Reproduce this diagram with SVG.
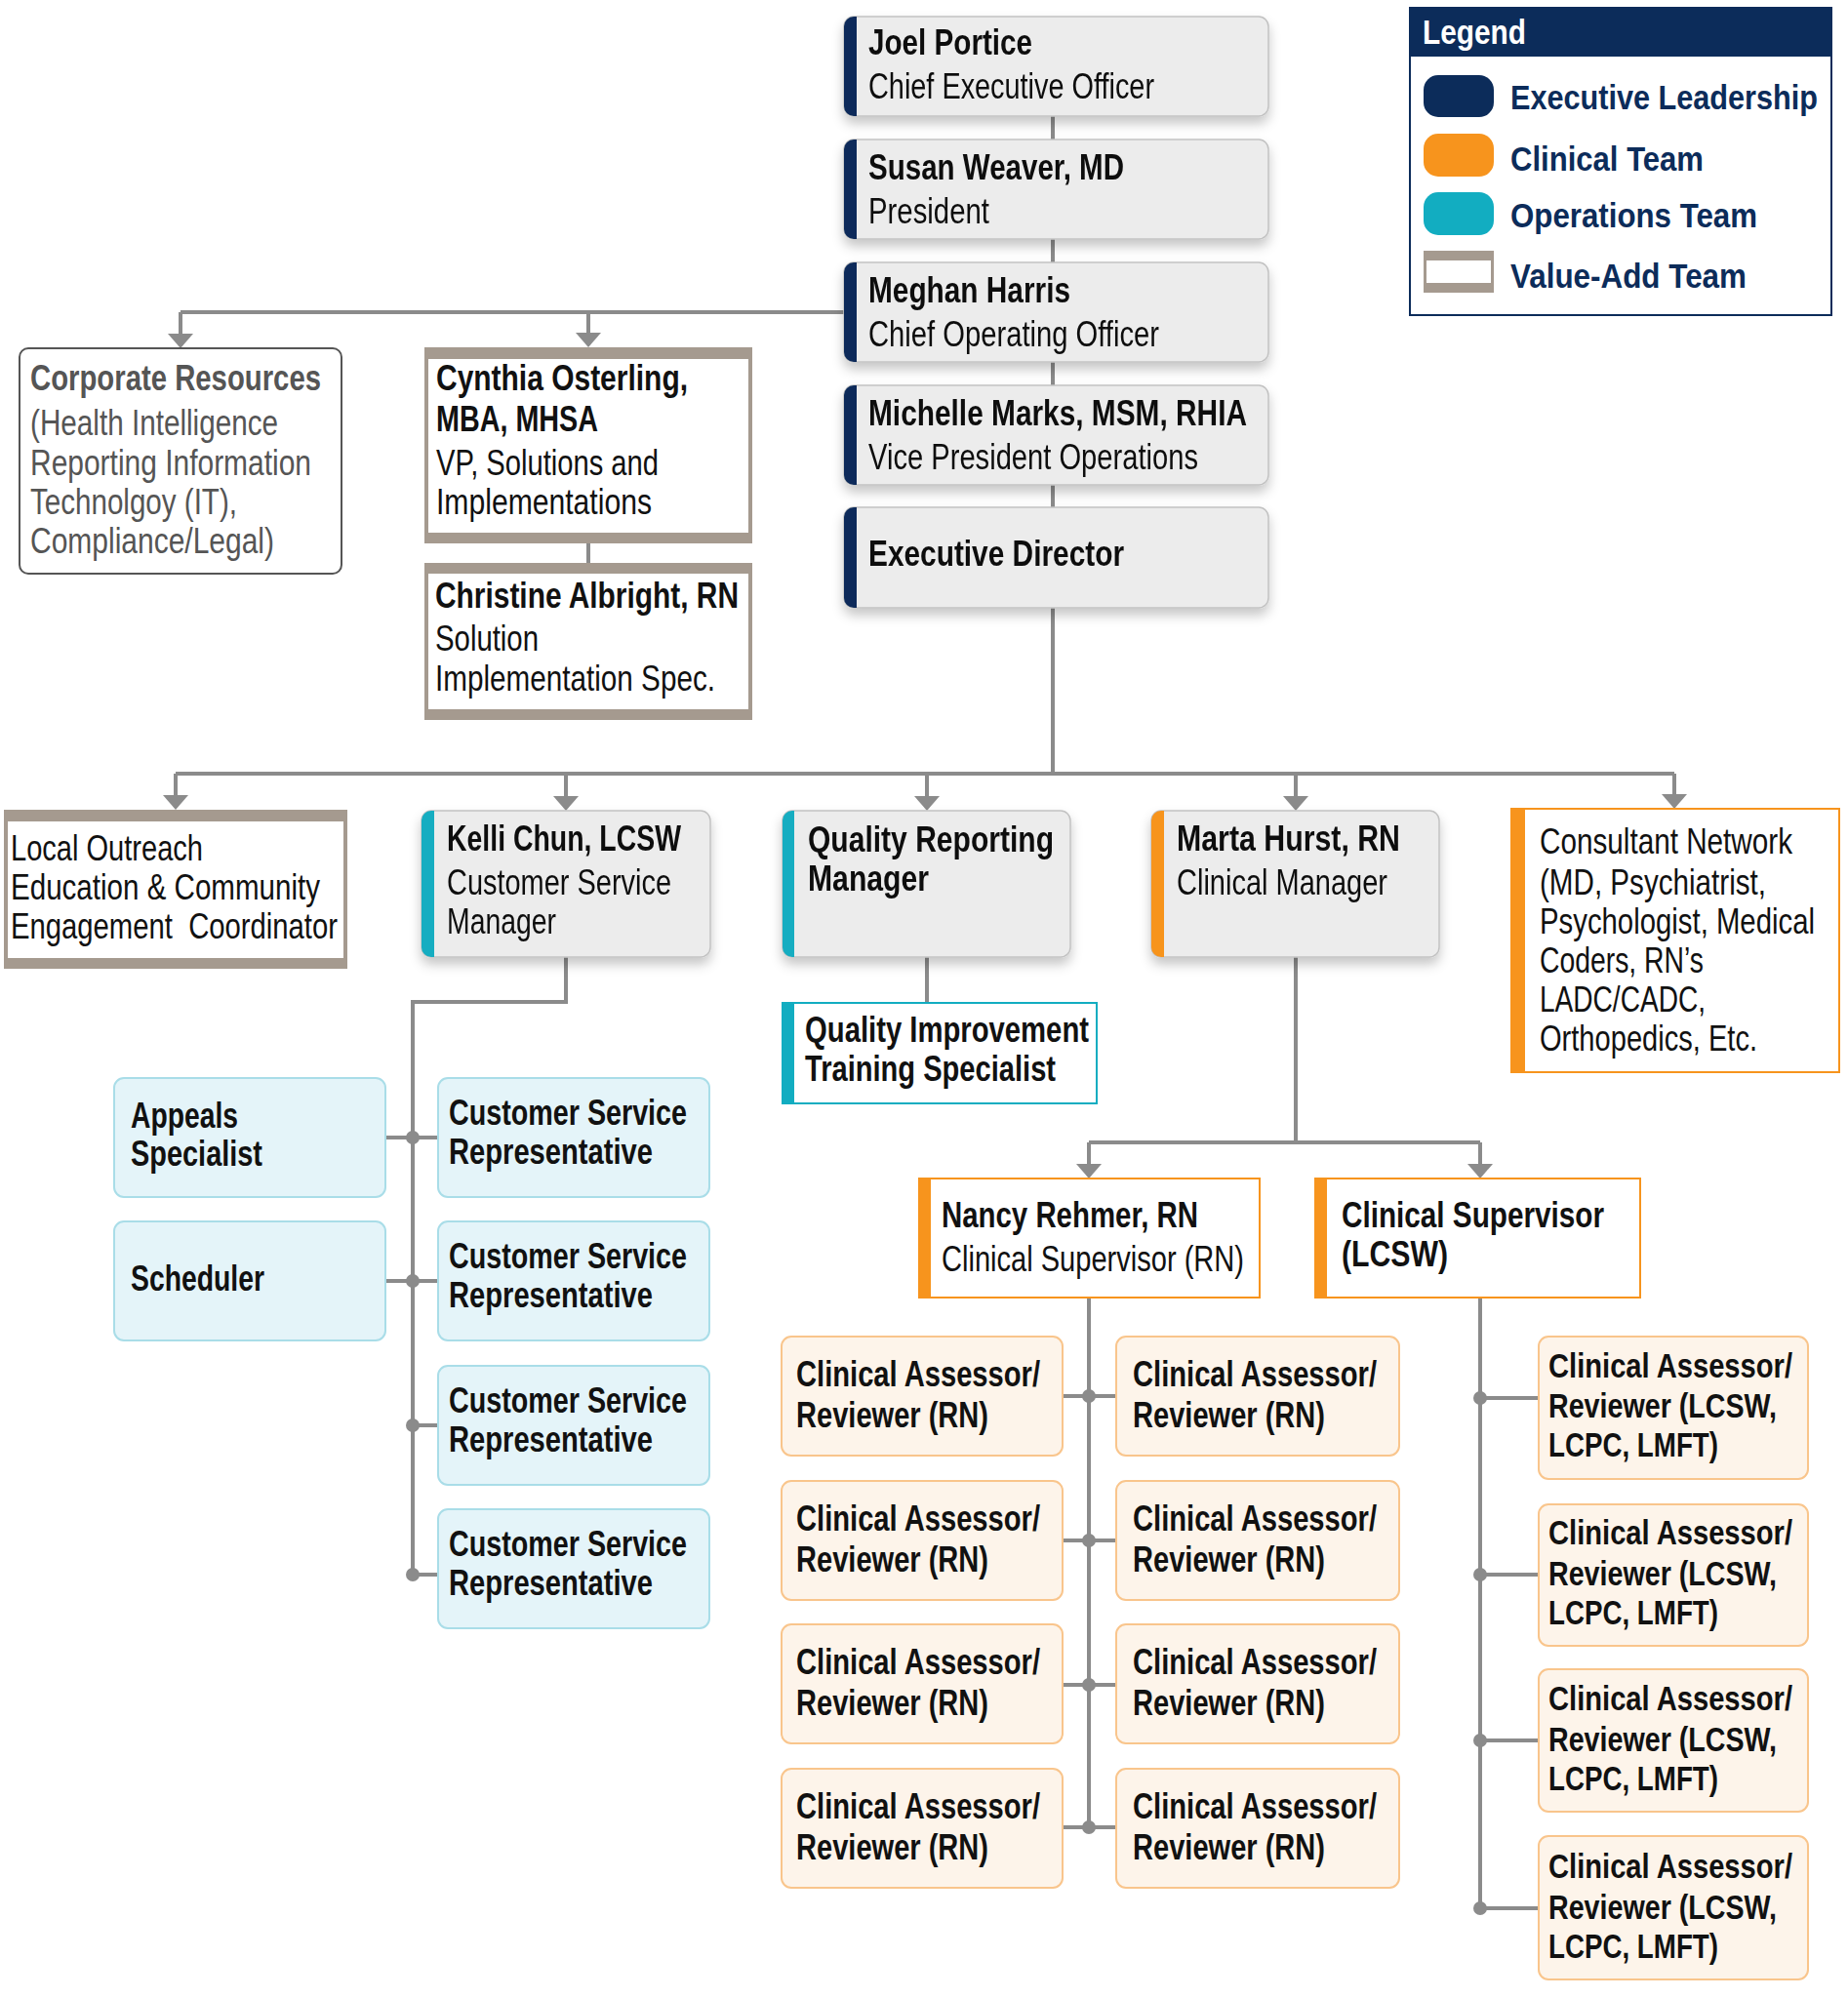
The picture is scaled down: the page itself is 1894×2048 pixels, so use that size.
<svg xmlns="http://www.w3.org/2000/svg" width="1894" height="2048" viewBox="0 0 1894 2048">
<style>
text{font-family:"Liberation Sans Narrow","Liberation Sans",Arial,sans-serif;fill:#111;}
.b{font-weight:bold;font-size:36px;}
.b35{font-weight:bold;font-size:35px;}
.r{font-size:37px;}
.s{font-size:37px;}
.r32{font-size:32px;}
.g{fill:#555;}
.gray{fill:#ececec;stroke:#c2c2c2;stroke-width:1.5;}
.navy{fill:#0c2c5a;}
.teal{fill:#12adc1;}
.orng{fill:#f7941d;}
.va{fill:#a59a8f;}
.wh{fill:#fff;}
.ops{fill:#e4f4f9;stroke:#a9dde8;stroke-width:2;}
.cli{fill:#fdf4ea;stroke:#f9c58c;stroke-width:2;}
.ob{fill:#fff;stroke:#f7941d;stroke-width:2;}
.tb{fill:#fff;stroke:#12adc1;stroke-width:2;}
.con{fill:none;stroke:#8b8b8b;stroke-width:4;}
.dot{fill:#8b8b8b;}
.lg{font-size:32px;font-weight:bold;fill:#0c2c5a;}
</style>
<defs>
<filter id="sh" x="-10%" y="-10%" width="120%" height="140%"><feDropShadow dx="0" dy="7" stdDeviation="6" flood-color="#000" flood-opacity="0.22"/></filter>
<marker id="ar" markerUnits="userSpaceOnUse" viewBox="0 0 26 16" markerWidth="26" markerHeight="16" refX="13" refY="12" orient="0"><path d="M0,0 L26,0 L13,15 Z" fill="#8b8b8b"/></marker>
</defs>
<rect width="1894" height="2048" fill="#fff"/>

<g id="connectors">
<path class="con" d="M1079,119 V143 M1079,245 V269 M1079,371 V395 M1079,497 V520"/>
<path class="con" d="M865,320 H185 M1079,623 V793 M180,793 H1716 M603,557 V577 M950,981 V1028 M1328,981 V1171 M1116,1171 H1517"/>
<path class="con" marker-end="url(#ar)" d="M185,320 V354"/>
<path class="con" marker-end="url(#ar)" d="M603,320 V353"/>
<path class="con" marker-end="url(#ar)" d="M180,793 V827"/>
<path class="con" marker-end="url(#ar)" d="M580,793 V828"/>
<path class="con" marker-end="url(#ar)" d="M950,793 V828"/>
<path class="con" marker-end="url(#ar)" d="M1328,793 V828"/>
<path class="con" marker-end="url(#ar)" d="M1716,793 V826"/>
<path class="con" marker-end="url(#ar)" d="M1116,1171 V1205"/>
<path class="con" marker-end="url(#ar)" d="M1517,1171 V1205"/>
<path class="con" d="M580,981 V1027 H423 V1614 M395,1166 H449 M395,1313 H449 M423,1461 H449 M423,1614 H449"/>
<path class="con" d="M1116,1330 V1873 M1089,1431 H1144 M1089,1579 H1144 M1089,1727 H1144 M1089,1873 H1144"/>
<path class="con" d="M1517,1330 V1956 M1517,1433 H1577 M1517,1614 H1577 M1517,1784 H1577 M1517,1956 H1577"/>
<circle class="dot" cx="423" cy="1166" r="7"/><circle class="dot" cx="423" cy="1313" r="7"/><circle class="dot" cx="423" cy="1461" r="7"/><circle class="dot" cx="423" cy="1614" r="7"/>
<circle class="dot" cx="1116" cy="1431" r="7"/><circle class="dot" cx="1116" cy="1579" r="7"/><circle class="dot" cx="1116" cy="1727" r="7"/><circle class="dot" cx="1116" cy="1873" r="7"/>
<circle class="dot" cx="1517" cy="1433" r="7"/><circle class="dot" cx="1517" cy="1614" r="7"/><circle class="dot" cx="1517" cy="1784" r="7"/><circle class="dot" cx="1517" cy="1956" r="7"/>
</g>

<g id="legend">
<rect x="1445" y="8" width="432" height="315" fill="#fff" stroke="#0c2c5a" stroke-width="2"/>
<rect x="1445" y="8" width="432" height="50" class="navy"/>
<text x="1458" y="45" font-size="35" font-weight="bold" style="fill:#fff" textLength="106" lengthAdjust="spacingAndGlyphs">Legend</text>
<rect x="1459" y="77" width="72" height="43" rx="15" class="navy"/>
<rect x="1459" y="137" width="72" height="44" rx="15" class="orng"/>
<rect x="1459" y="197" width="72" height="44" rx="15" class="teal"/>
<rect x="1459" y="257" width="72" height="43" class="va"/>
<rect x="1462" y="267" width="66" height="23" class="wh"/>
<text class="lg" transform="translate(1548,112) scale(1,1.1)" textLength="315" lengthAdjust="spacingAndGlyphs">Executive Leadership</text>
<text class="lg" transform="translate(1548,175) scale(1,1.1)" textLength="198" lengthAdjust="spacingAndGlyphs">Clinical Team</text>
<text class="lg" transform="translate(1548,233) scale(1,1.1)" textLength="253" lengthAdjust="spacingAndGlyphs">Operations Team</text>
<text class="lg" transform="translate(1548,295) scale(1,1.1)" textLength="242" lengthAdjust="spacingAndGlyphs">Value-Add Team</text>
</g>

<g id="joel" filter="url(#sh)">
<rect class="gray" x="865" y="17" width="435" height="102" rx="10"/>
<path class="navy" d="M878,17 H875 A10,10 0 0 0 865,27 V109 A10,10 0 0 0 875,119 H878 Z"/>
<text class="b" x="890" y="56" textLength="168" lengthAdjust="spacingAndGlyphs">Joel Portice</text>
<text class="r" x="890" y="101" textLength="293" lengthAdjust="spacingAndGlyphs">Chief Executive Officer</text>
</g>
<g id="susan" filter="url(#sh)">
<rect class="gray" x="865" y="143" width="435" height="102" rx="10"/>
<path class="navy" d="M878,143 H875 A10,10 0 0 0 865,153 V235 A10,10 0 0 0 875,245 H878 Z"/>
<text class="b" x="890" y="184" textLength="262" lengthAdjust="spacingAndGlyphs">Susan Weaver, MD</text>
<text class="r" x="890" y="229" textLength="124" lengthAdjust="spacingAndGlyphs">President</text>
</g>
<g id="meghan" filter="url(#sh)">
<rect class="gray" x="865" y="269" width="435" height="102" rx="10"/>
<path class="navy" d="M878,269 H875 A10,10 0 0 0 865,279 V361 A10,10 0 0 0 875,371 H878 Z"/>
<text class="b" x="890" y="310" textLength="207" lengthAdjust="spacingAndGlyphs">Meghan Harris</text>
<text class="r" x="890" y="355" textLength="298" lengthAdjust="spacingAndGlyphs">Chief Operating Officer</text>
</g>
<g id="michelle" filter="url(#sh)">
<rect class="gray" x="865" y="395" width="435" height="102" rx="10"/>
<path class="navy" d="M878,395 H875 A10,10 0 0 0 865,405 V487 A10,10 0 0 0 875,497 H878 Z"/>
<text class="b" x="890" y="436" textLength="388" lengthAdjust="spacingAndGlyphs">Michelle Marks, MSM, RHIA</text>
<text class="r" x="890" y="481" textLength="338" lengthAdjust="spacingAndGlyphs">Vice President Operations</text>
</g>
<g id="execdir" filter="url(#sh)">
<rect class="gray" x="865" y="520" width="435" height="103" rx="10"/>
<path class="navy" d="M878,520 H875 A10,10 0 0 0 865,530 V613 A10,10 0 0 0 875,623 H878 Z"/>
<text class="b" x="890" y="580" textLength="262" lengthAdjust="spacingAndGlyphs">Executive Director</text>
</g>

<g id="corporate">
<rect x="20" y="357" width="330" height="231" rx="9" fill="#fff" stroke="#555" stroke-width="2"/>
<text class="b g" x="31" y="400" textLength="298" lengthAdjust="spacingAndGlyphs">Corporate Resources</text>
<text class="s g" x="31" y="446" textLength="254" lengthAdjust="spacingAndGlyphs">(Health Intelligence</text>
<text class="s g" x="31" y="487" textLength="288" lengthAdjust="spacingAndGlyphs">Reporting Information</text>
<text class="s g" x="31" y="527" textLength="212" lengthAdjust="spacingAndGlyphs">Technolgoy (IT),</text>
<text class="s g" x="31" y="567" textLength="250" lengthAdjust="spacingAndGlyphs">Compliance/Legal)</text>
</g>

<g id="cynthia">
<rect class="va" x="435" y="356" width="336" height="201"/>
<rect class="wh" x="439" y="368" width="328" height="178"/>
<text class="b" x="447" y="400" textLength="258" lengthAdjust="spacingAndGlyphs">Cynthia Osterling,</text>
<text class="b" x="447" y="442" textLength="166" lengthAdjust="spacingAndGlyphs">MBA, MHSA</text>
<text class="r" x="447" y="487" textLength="228" lengthAdjust="spacingAndGlyphs">VP, Solutions and</text>
<text class="r" x="447" y="527" textLength="221" lengthAdjust="spacingAndGlyphs">Implementations</text>
</g>

<g id="christine">
<rect class="va" x="435" y="577" width="336" height="161"/>
<rect class="wh" x="439" y="588" width="328" height="139"/>
<text class="b" x="446" y="623" textLength="311" lengthAdjust="spacingAndGlyphs">Christine Albright, RN</text>
<text class="r" x="446" y="667" textLength="106" lengthAdjust="spacingAndGlyphs">Solution</text>
<text class="r" x="446" y="708" textLength="287" lengthAdjust="spacingAndGlyphs">Implementation Spec.</text>
</g>

<g id="outreach">
<rect class="va" x="4" y="830" width="352" height="163"/>
<rect class="wh" x="8" y="842" width="344" height="140"/>
<text class="r" x="11" y="882" textLength="197" lengthAdjust="spacingAndGlyphs">Local Outreach</text>
<text class="r" x="11" y="922" textLength="317" lengthAdjust="spacingAndGlyphs">Education &amp; Community</text>
<text class="r" x="11" y="962" textLength="335" lengthAdjust="spacingAndGlyphs" xml:space="preserve">Engagement  Coordinator</text>
</g>

<g id="kelli" filter="url(#sh)">
<rect class="gray" x="432" y="831" width="296" height="150" rx="10"/>
<path class="teal" d="M445,831 H442 A10,10 0 0 0 432,841 V971 A10,10 0 0 0 442,981 H445 Z"/>
<text class="b" x="458" y="872" textLength="240" lengthAdjust="spacingAndGlyphs">Kelli Chun, LCSW</text>
<text class="r" x="458" y="917" textLength="230" lengthAdjust="spacingAndGlyphs">Customer Service</text>
<text class="r" x="458" y="957" textLength="112" lengthAdjust="spacingAndGlyphs">Manager</text>
</g>

<g id="qrm" filter="url(#sh)">
<rect class="gray" x="802" y="831" width="295" height="150" rx="10"/>
<path class="teal" d="M814,831 H812 A10,10 0 0 0 802,841 V971 A10,10 0 0 0 812,981 H814 Z"/>
<text class="b" x="828" y="873" textLength="252" lengthAdjust="spacingAndGlyphs">Quality Reporting</text>
<text class="b" x="828" y="913" textLength="124" lengthAdjust="spacingAndGlyphs">Manager</text>
</g>

<g id="marta" filter="url(#sh)">
<rect class="gray" x="1180" y="831" width="295" height="150" rx="10"/>
<path class="orng" d="M1193,831 H1190 A10,10 0 0 0 1180,841 V971 A10,10 0 0 0 1190,981 H1193 Z"/>
<text class="b" x="1206" y="872" textLength="229" lengthAdjust="spacingAndGlyphs">Marta Hurst, RN</text>
<text class="r" x="1206" y="917" textLength="216" lengthAdjust="spacingAndGlyphs">Clinical Manager</text>
</g>

<g id="consultant">
<rect class="ob" x="1549" y="829" width="336" height="270"/>
<rect class="orng" x="1549" y="829" width="14" height="270"/>
<text class="r32" transform="translate(1578,875) scale(1,1.15)" textLength="259" lengthAdjust="spacingAndGlyphs">Consultant Network</text>
<text class="r32" transform="translate(1578,917) scale(1,1.15)" textLength="232" lengthAdjust="spacingAndGlyphs">(MD, Psychiatrist,</text>
<text class="r32" transform="translate(1578,957) scale(1,1.15)" textLength="282" lengthAdjust="spacingAndGlyphs">Psychologist, Medical</text>
<text class="r32" transform="translate(1578,997) scale(1,1.15)" textLength="168" lengthAdjust="spacingAndGlyphs">Coders, RN’s</text>
<text class="r32" transform="translate(1578,1037) scale(1,1.15)" textLength="170" lengthAdjust="spacingAndGlyphs">LADC/CADC,</text>
<text class="r32" transform="translate(1578,1077) scale(1,1.15)" textLength="223" lengthAdjust="spacingAndGlyphs">Orthopedics, Etc.</text>
</g>

<g id="qits">
<rect class="tb" x="802" y="1028" width="322" height="103"/>
<rect class="teal" x="802" y="1028" width="12" height="103"/>
<text class="b" x="825" y="1068" textLength="291" lengthAdjust="spacingAndGlyphs">Quality Improvement</text>
<text class="b" x="825" y="1108" textLength="257" lengthAdjust="spacingAndGlyphs">Training Specialist</text>
</g>

<g id="appeals">
<rect class="ops" x="117" y="1105" width="278" height="122" rx="10"/>
<text class="b" x="134" y="1156" textLength="110" lengthAdjust="spacingAndGlyphs">Appeals</text>
<text class="b" x="134" y="1195" textLength="135" lengthAdjust="spacingAndGlyphs">Specialist</text>
</g>
<g id="scheduler">
<rect class="ops" x="117" y="1252" width="278" height="122" rx="10"/>
<text class="b" x="134" y="1323" textLength="137" lengthAdjust="spacingAndGlyphs">Scheduler</text>
</g>
<g id="csr1">
<rect class="ops" x="449" y="1105" width="278" height="122" rx="10"/>
<text class="b" x="460" y="1153" textLength="244" lengthAdjust="spacingAndGlyphs">Customer Service</text>
<text class="b" x="460" y="1193" textLength="209" lengthAdjust="spacingAndGlyphs">Representative</text>
</g>
<g id="csr2">
<rect class="ops" x="449" y="1252" width="278" height="122" rx="10"/>
<text class="b" x="460" y="1300" textLength="244" lengthAdjust="spacingAndGlyphs">Customer Service</text>
<text class="b" x="460" y="1340" textLength="209" lengthAdjust="spacingAndGlyphs">Representative</text>
</g>
<g id="csr3">
<rect class="ops" x="449" y="1400" width="278" height="122" rx="10"/>
<text class="b" x="460" y="1448" textLength="244" lengthAdjust="spacingAndGlyphs">Customer Service</text>
<text class="b" x="460" y="1488" textLength="209" lengthAdjust="spacingAndGlyphs">Representative</text>
</g>
<g id="csr4">
<rect class="ops" x="449" y="1547" width="278" height="122" rx="10"/>
<text class="b" x="460" y="1595" textLength="244" lengthAdjust="spacingAndGlyphs">Customer Service</text>
<text class="b" x="460" y="1635" textLength="209" lengthAdjust="spacingAndGlyphs">Representative</text>
</g>

<g id="nancy">
<rect class="ob" x="942" y="1208" width="349" height="122"/>
<rect class="orng" x="942" y="1208" width="12" height="122"/>
<text class="b" x="965" y="1258" textLength="263" lengthAdjust="spacingAndGlyphs">Nancy Rehmer, RN</text>
<text class="r" x="965" y="1303" textLength="310" lengthAdjust="spacingAndGlyphs">Clinical Supervisor (RN)</text>
</g>
<g id="supervisor-lcsw">
<rect class="ob" x="1348" y="1208" width="333" height="122"/>
<rect class="orng" x="1348" y="1208" width="12" height="122"/>
<text class="b" x="1375" y="1258" textLength="269" lengthAdjust="spacingAndGlyphs">Clinical Supervisor</text>
<text class="b" x="1375" y="1298" textLength="109" lengthAdjust="spacingAndGlyphs">(LCSW)</text>
</g>

<g id="carn1"><rect class="cli" x="801" y="1370" width="288" height="122" rx="10"/><text class="b" x="816" y="1421" textLength="250" lengthAdjust="spacingAndGlyphs">Clinical Assessor/</text><text class="b" x="816" y="1463" textLength="197" lengthAdjust="spacingAndGlyphs">Reviewer (RN)</text></g>
<g id="carn2"><rect class="cli" x="1144" y="1370" width="290" height="122" rx="10"/><text class="b" x="1161" y="1421" textLength="250" lengthAdjust="spacingAndGlyphs">Clinical Assessor/</text><text class="b" x="1161" y="1463" textLength="197" lengthAdjust="spacingAndGlyphs">Reviewer (RN)</text></g>
<g id="carn3"><rect class="cli" x="801" y="1518" width="288" height="122" rx="10"/><text class="b" x="816" y="1569" textLength="250" lengthAdjust="spacingAndGlyphs">Clinical Assessor/</text><text class="b" x="816" y="1611" textLength="197" lengthAdjust="spacingAndGlyphs">Reviewer (RN)</text></g>
<g id="carn4"><rect class="cli" x="1144" y="1518" width="290" height="122" rx="10"/><text class="b" x="1161" y="1569" textLength="250" lengthAdjust="spacingAndGlyphs">Clinical Assessor/</text><text class="b" x="1161" y="1611" textLength="197" lengthAdjust="spacingAndGlyphs">Reviewer (RN)</text></g>
<g id="carn5"><rect class="cli" x="801" y="1665" width="288" height="122" rx="10"/><text class="b" x="816" y="1716" textLength="250" lengthAdjust="spacingAndGlyphs">Clinical Assessor/</text><text class="b" x="816" y="1758" textLength="197" lengthAdjust="spacingAndGlyphs">Reviewer (RN)</text></g>
<g id="carn6"><rect class="cli" x="1144" y="1665" width="290" height="122" rx="10"/><text class="b" x="1161" y="1716" textLength="250" lengthAdjust="spacingAndGlyphs">Clinical Assessor/</text><text class="b" x="1161" y="1758" textLength="197" lengthAdjust="spacingAndGlyphs">Reviewer (RN)</text></g>
<g id="carn7"><rect class="cli" x="801" y="1813" width="288" height="122" rx="10"/><text class="b" x="816" y="1864" textLength="250" lengthAdjust="spacingAndGlyphs">Clinical Assessor/</text><text class="b" x="816" y="1906" textLength="197" lengthAdjust="spacingAndGlyphs">Reviewer (RN)</text></g>
<g id="carn8"><rect class="cli" x="1144" y="1813" width="290" height="122" rx="10"/><text class="b" x="1161" y="1864" textLength="250" lengthAdjust="spacingAndGlyphs">Clinical Assessor/</text><text class="b" x="1161" y="1906" textLength="197" lengthAdjust="spacingAndGlyphs">Reviewer (RN)</text></g>

<g id="calcsw1"><rect class="cli" x="1577" y="1370" width="276" height="146" rx="10"/><text class="b35" x="1587" y="1412" textLength="250" lengthAdjust="spacingAndGlyphs">Clinical Assessor/</text><text class="b35" x="1587" y="1453" textLength="234" lengthAdjust="spacingAndGlyphs">Reviewer (LCSW,</text><text class="b35" x="1587" y="1493" textLength="174" lengthAdjust="spacingAndGlyphs">LCPC, LMFT)</text></g>
<g id="calcsw2"><rect class="cli" x="1577" y="1542" width="276" height="145" rx="10"/><text class="b35" x="1587" y="1583" textLength="250" lengthAdjust="spacingAndGlyphs">Clinical Assessor/</text><text class="b35" x="1587" y="1625" textLength="234" lengthAdjust="spacingAndGlyphs">Reviewer (LCSW,</text><text class="b35" x="1587" y="1665" textLength="174" lengthAdjust="spacingAndGlyphs">LCPC, LMFT)</text></g>
<g id="calcsw3"><rect class="cli" x="1577" y="1711" width="276" height="146" rx="10"/><text class="b35" x="1587" y="1753" textLength="250" lengthAdjust="spacingAndGlyphs">Clinical Assessor/</text><text class="b35" x="1587" y="1795" textLength="234" lengthAdjust="spacingAndGlyphs">Reviewer (LCSW,</text><text class="b35" x="1587" y="1835" textLength="174" lengthAdjust="spacingAndGlyphs">LCPC, LMFT)</text></g>
<g id="calcsw4"><rect class="cli" x="1577" y="1882" width="276" height="147" rx="10"/><text class="b35" x="1587" y="1925" textLength="250" lengthAdjust="spacingAndGlyphs">Clinical Assessor/</text><text class="b35" x="1587" y="1967" textLength="234" lengthAdjust="spacingAndGlyphs">Reviewer (LCSW,</text><text class="b35" x="1587" y="2007" textLength="174" lengthAdjust="spacingAndGlyphs">LCPC, LMFT)</text></g>
</svg>
